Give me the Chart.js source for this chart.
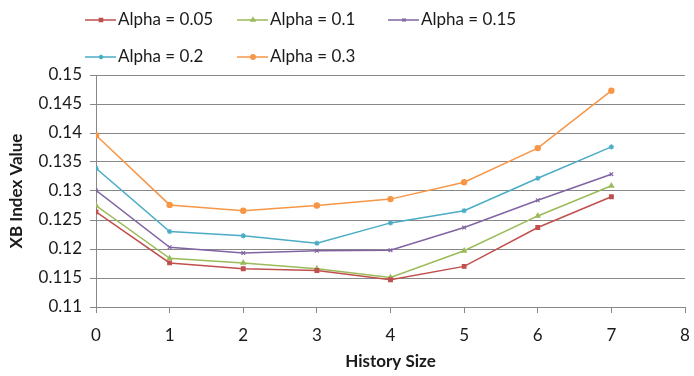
<!DOCTYPE html>
<html>
<head>
<meta charset="utf-8">
<script src="https://cdn.jsdelivr.net/npm/chart.js@4.4.0/dist/chart.umd.min.js"></script>
<style>
  html, body { margin: 0; padding: 0; background: #fff; }
  #wrap { width: 694px; height: 376px; position: relative; }
</style>
</head>
<body>
<div id="wrap"><canvas id="xbChart" width="694" height="376"></canvas></div>
<script>
const historySizes = [0, 1, 2, 3, 4, 5, 6, 7];
const seriesNames = ['Alpha = 0.05', 'Alpha = 0.1', 'Alpha = 0.15', 'Alpha = 0.2', 'Alpha = 0.3'];
const alpha005 = [0.1264, 0.1176, 0.1166, 0.1163, 0.1147, 0.1170, 0.1237, 0.1290];
const alpha01  = [0.1275, 0.1184, 0.1176, 0.1166, 0.1151, 0.1197, 0.1257, 0.1309];
const alpha015 = [0.1301, 0.1203, 0.1193, 0.1197, 0.1198, 0.1237, 0.1284, 0.1329];
const alpha02  = [0.1339, 0.1230, 0.1223, 0.1210, 0.1245, 0.1266, 0.1322, 0.1376];
const alpha03  = [0.1396, 0.1276, 0.1266, 0.1275, 0.1286, 0.1315, 0.1374, 0.1473];

const seriesValues = [alpha005, alpha01, alpha015, alpha02, alpha03];
const colors = ['#C0504D', '#9BBB59', '#8064A2', '#4BACC6', '#F79646'];
const markers = ['rect', 'triangle', 'crossRot', 'star', 'circle'];

const fontFamily = 'Lato, "Open Sans", sans-serif';

const datasets = seriesValues.map((vals, i) => ({
    label: seriesNames[i],
    data: vals.map((v, j) => ({ x: historySizes[j], y: v })),
    borderColor: colors[i],
    backgroundColor: colors[i],
    borderWidth: 1.5,
    pointStyle: markers[i],
    pointRadius: 2.6,
    pointBorderWidth: 1.2,
    tension: 0
}));

// legend laid out in fixed columns like the original
const legendPlugin = {
    id: 'gridLegend',
    afterDraw(chart) {
        const ctx = chart.ctx;
        const cols = [85, 237, 388];
        const rows = [20, 57];
        ctx.save();
        ctx.font = '17px ' + fontFamily;
        ctx.textBaseline = 'middle';
        chart.data.datasets.forEach((ds, i) => {
            const x = cols[i % 3];
            const y = rows[Math.floor(i / 3)];
            ctx.strokeStyle = ds.borderColor;
            ctx.lineWidth = 1.5;
            ctx.beginPath();
            ctx.moveTo(x, y);
            ctx.lineTo(x + 31, y);
            ctx.stroke();
            Chart.helpers.drawPoint(ctx, {
                pointStyle: ds.pointStyle, radius: 2.2, borderWidth: 1.2, rotation: 0
            }, x + 16, y);
            ctx.fillStyle = ds.borderColor;
            ctx.fill();
            ctx.fillStyle = '#1a1a1a';
            ctx.textAlign = 'left';
            ctx.fillText(ds.label, x + 33, y);
        });
        ctx.restore();
    }
};

function createXbChart() {
    const ctx = document.getElementById('xbChart').getContext('2d');
    new Chart(ctx, {
        type: 'line',
        data: { datasets: datasets },
        plugins: [legendPlugin],
        options: {
            responsive: false,
            animation: false,
            layout: { padding: { top: 75, right: 9, left: 0, bottom: 0 } },
            plugins: {
                legend: { display: false },
                tooltip: { enabled: false }
            },
            scales: {
                x: {
                    type: 'linear',
                    min: 0,
                    max: 8,
                    ticks: {
                        stepSize: 1,
                        color: '#1a1a1a',
                        font: { family: fontFamily, size: 17 },
                        padding: 12
                    },
                    grid: {
                        display: true,
                        drawOnChartArea: false,
                        drawTicks: true,
                        tickLength: 6,
                        color: '#888'
                    },
                    border: { color: '#888', width: 1 },
                    title: {
                        display: true,
                        text: 'History Size',
                        color: '#1a1a1a',
                        font: { family: fontFamily, size: 17, weight: 'bold' },
                        padding: { top: 2 }
                    },
                    afterFit(scale) {
                        scale.height = 69;
                        scale.paddingLeft = 0;
                        scale.paddingRight = 0;
                    }
                },
                y: {
                    min: 0.11,
                    max: 0.15,
                    ticks: {
                        stepSize: 0.005,
                        color: '#1a1a1a',
                        font: { family: fontFamily, size: 17 },
                        padding: 8,
                        callback: v => String(+v.toFixed(3))
                    },
                    grid: {
                        color: '#888',
                        tickLength: 6,
                        lineWidth: 1
                    },
                    border: { color: '#888', width: 1 },
                    title: {
                        display: true,
                        text: 'XB Index Value',
                        color: '#1a1a1a',
                        font: { family: fontFamily, size: 17, weight: 'bold' },
                        padding: { top: 6, bottom: 0 }
                    },
                    afterFit(scale) { scale.width = 96; }
                }
            }
        }
    });
}

document.addEventListener('DOMContentLoaded', createXbChart);
</script>
</body>
</html>
